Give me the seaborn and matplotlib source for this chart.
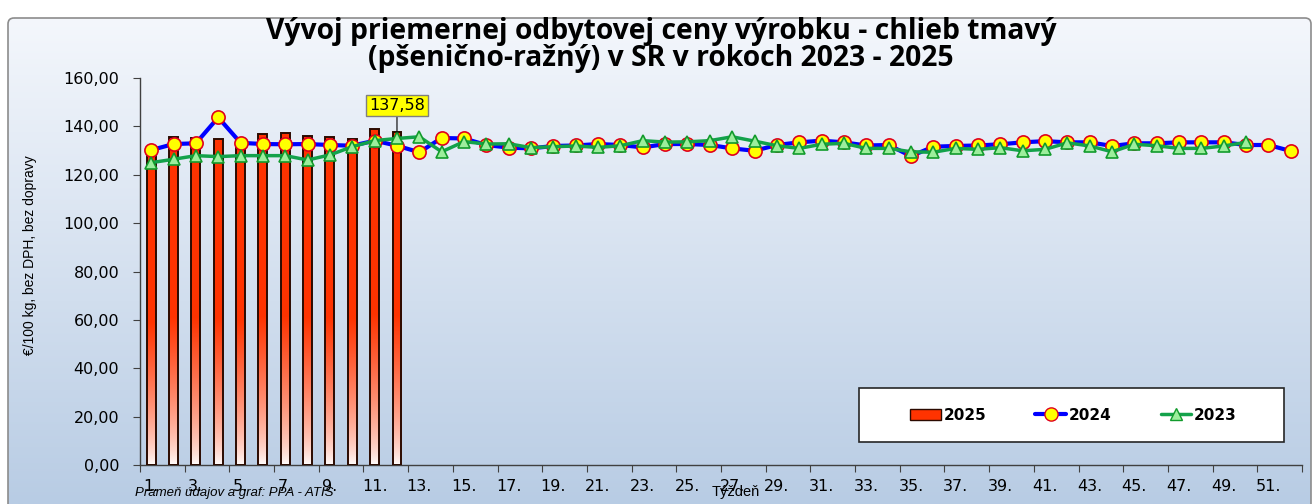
import numpy as np
import pandas as pd
import seaborn as sns
import matplotlib.pyplot as plt
from matplotlib.patches import FancyBboxPatch, Rectangle, Patch
from matplotlib.lines import Line2D
from matplotlib.ticker import FixedLocator, FuncFormatter

# data
weeks_2025 = list(range(1, 13))
price_2025 = [131.0, 135.7, 135.4, 134.9, 133.5, 136.8, 137.1, 136.0, 135.7, 134.6, 138.8, 137.58]

weeks_2024 = list(range(1, 53))
price_2024 = [130.2, 132.7, 133.0, 143.7, 133.2, 132.7, 132.6, 132.7, 132.3, 132.0,
              134.1, 132.0, 129.3, 135.2, 135.0, 132.3, 131.2, 130.9, 131.9, 132.1,
              132.7, 132.3, 131.3, 132.7, 132.7, 132.3, 130.9, 129.9, 132.3, 133.4,
              134.1, 133.4, 132.1, 132.3, 127.7, 131.6, 131.9, 132.1, 132.6, 133.4,
              133.9, 133.4, 133.4, 131.9, 133.0, 133.0, 133.4, 133.4, 133.4, 132.3,
              132.3, 129.8]

weeks_2023 = list(range(1, 51))
price_2023 = [125.0, 126.4, 127.9, 127.5, 127.9, 127.9, 127.9, 126.1, 128.2, 131.6,
              134.1, 135.0, 135.7, 129.5, 133.7, 132.7, 132.8, 131.2, 131.6, 131.9,
              131.3, 132.0, 134.1, 133.5, 133.6, 134.1, 135.7, 133.9, 132.0, 130.9,
              132.6, 133.0, 130.9, 130.9, 129.5, 129.3, 130.9, 130.5, 131.2, 129.9,
              130.5, 133.2, 131.9, 129.5, 132.6, 132.0, 130.9, 130.9, 131.9, 133.4]

title = 'Vývoj priemernej odbytovej ceny výrobku - chlieb tmavý\n(pšenično-ražný) v SR v rokoch 2023 - 2025'
ylabel = '€/100 kg, bez DPH, bez dopravy'
xlabel = 'Týždeň'
source = 'Prameň údajov a graf: PPA - ATIS'

sns.set_style('ticks')
plt.rcParams['font.family'] = ['DejaVu Sans']
plt.rcParams['text.color'] = 'black'
plt.rcParams['xtick.color'] = 'black'
plt.rcParams['ytick.color'] = 'black'

W, H = 1314, 504
fig = plt.figure(figsize=(W / 100, H / 100), dpi=100)

# chart background with gradient
bg = fig.add_axes([0, 0, 1, 1], zorder=-5)
bg.set_xlim(0, W)
bg.set_ylim(H, 0)
bg.axis('off')
frame = FancyBboxPatch((8, 18), W - 11, H, boxstyle='round,pad=0,rounding_size=6',
                       facecolor='none', edgecolor='#8c8c8c', lw=1.2)
bg.add_patch(frame)
top_c = np.array([244, 247, 252]) / 255
bot_c = np.array([184, 204, 228]) / 255
t = np.linspace(0, 1, 256)[:, None]
grad = (top_c[None, :] * (1 - t) + bot_c[None, :] * t)[:, None, :]
img = bg.imshow(grad, extent=(8, W - 3, H, 18), aspect='auto', zorder=-1)
img.set_clip_path(frame)

# main plot
ax = fig.add_axes([140 / W, 1 - 465 / H, (1302 - 140) / W, (465 - 78) / H])
ax.patch.set_alpha(0)

df25 = pd.DataFrame({'week': weeks_2025, 'price': price_2025})
sns.barplot(data=df25, x='week', y='price', native_scale=True, width=0.4,
            facecolor='none', edgecolor='#2b0a00', linewidth=1.4, ax=ax, zorder=3)

# red-to-white gradient inside bars
red = np.array([255, 51, 0]) / 255
vals = np.linspace(0, 1, 256)[:, None]
mix = np.clip(vals / 0.45, 0, 1) ** 0.7
bar_grad = (np.ones(3)[None, :] * (1 - mix) + red[None, :] * mix)[:, None, :]
for p in ax.patches:
    x0 = p.get_x()
    w = p.get_width()
    h = p.get_height()
    im = ax.imshow(bar_grad, extent=(x0, x0 + w, 0, h), origin='lower', aspect='auto', zorder=2)
    im.set_clip_path(p)

sns.lineplot(x=weeks_2024, y=price_2024, color='#0000ff', lw=3, marker='o', markersize=9.5,
             markerfacecolor='#ffff00', markeredgecolor='#e0001b', markeredgewidth=1.2,
             ax=ax, zorder=5)
sns.lineplot(x=weeks_2023, y=price_2023, color='#13a24b', lw=2.5, marker='^', markersize=9,
             markerfacecolor='#9cee9c', markeredgecolor='#129b2c', markeredgewidth=1.2,
             ax=ax, zorder=6)

ax.set_xlim(0.5, 52.5)
ax.set_ylim(0, 160)
ax.set_yticks(np.arange(0, 161, 20))
ax.yaxis.set_major_formatter(FuncFormatter(lambda v, _: f'{v:.2f}'.replace('.', ',')))
ax.tick_params(axis='y', labelsize=11.5, length=5, pad=10, color='#404040')

ax.xaxis.set_major_locator(FixedLocator(np.arange(0.5, 53, 2)))
ax.xaxis.set_minor_locator(FixedLocator(np.arange(1, 53, 2)))
ax.xaxis.set_major_formatter(FuncFormatter(lambda v, _: ''))
ax.xaxis.set_minor_formatter(FuncFormatter(lambda v, _: f'{int(round(v))}.'))
ax.tick_params(axis='x', which='major', length=5, color='#404040')
ax.tick_params(axis='x', which='minor', length=0, labelsize=11.5, pad=10)

for s in ['top', 'right']:
    ax.spines[s].set_visible(False)
for s in ['left', 'bottom']:
    ax.spines[s].set_color('#404040')
    ax.spines[s].set_linewidth(1.0)
ax.set_xlabel('')
ax.set_ylabel('')

# label on last bar
ax.annotate('137,58', xy=(12, price_2025[-1]), xytext=(0, 14), textcoords='offset points',
            ha='center', va='bottom', fontsize=11.5,
            bbox=dict(boxstyle='square,pad=0.2', facecolor='#ffff00', edgecolor='#7f7f7f', lw=1),
            arrowprops=dict(arrowstyle='-', color='black', lw=0.8, shrinkA=0, shrinkB=0),
            zorder=10)

fig.text(661 / W, 1 - 45 / H, title, ha='center', va='center', fontsize=20.3,
         fontweight='bold', family='Open Sans', linespacing=0.95)
fig.text(30 / W, 1 - 255 / H, ylabel, rotation=90, ha='center', va='center',
         fontsize=10, family='Liberation Sans')
fig.text(736 / W, 1 - 492 / H, xlabel, ha='center', va='center', fontsize=10.5,
         family='Liberation Sans')
fig.text(135 / W, 1 - 493 / H, source, ha='left', va='center', fontsize=9.5,
         family='Liberation Sans', style='italic')

# legend box
bx0, by0, bw, bh = 859, 388, 425, 54
fig.add_artist(Rectangle((bx0 / W, 1 - (by0 + bh) / H), bw / W, bh / H, transform=fig.transFigure,
                         facecolor='white', edgecolor='#262626', lw=1.2, zorder=8))
handles = [Patch(facecolor='#ff3300', edgecolor='#2b0a00', lw=1),
           Line2D([], [], color='#0000ff', lw=3, marker='o', markersize=9.5,
                  markerfacecolor='#ffff00', markeredgecolor='#e0001b'),
           Line2D([], [], color='#13a24b', lw=2.5, marker='^', markersize=9,
                  markerfacecolor='#9cee9c', markeredgecolor='#129b2c')]
leg = fig.legend(handles, ['2025', '2024', '2023'], loc='center',
                 bbox_to_anchor=((bx0 + bw / 2 + 2) / W, 1 - (by0 + bh / 2) / H),
                 ncol=3, frameon=False, handlelength=2.0, handletextpad=0.2,
                 columnspacing=3.2, prop={'weight': 'bold', 'size': 11})
leg.set_zorder(9)

fig.savefig('out.png', dpi=100)
